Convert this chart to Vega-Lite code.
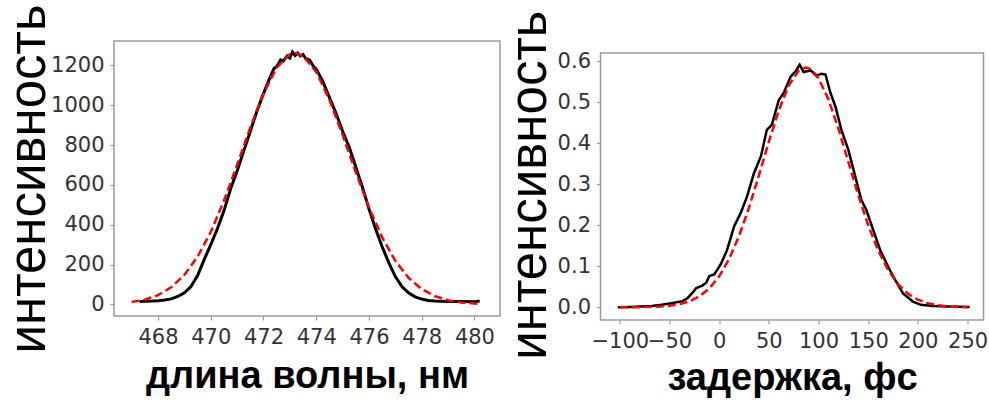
{
  "$schema": "https://vega.github.io/schema/vega-lite/v6.json",
  "padding": {"left": 2, "top": 3, "right": 0, "bottom": 0},
  "background": "white",
  "spacing": 2.5,
  "config": {
    "view": {"stroke": "#9a9a9a", "strokeWidth": 1.5},
    "axis": {
      "domain": false, "grid": false,
      "tickColor": "#9a9a9a", "tickSize": 4, "tickWidth": 1.2,
      "labelFont": "DejaVu Sans", "labelFontSize": 21, "labelColor": "#333333",
      "labelPadding": 6, "labelFlush": false, "labelOverlap": false, "labelBound": false
    }
  },
  "datasets": {
    "specBlack": [
      {"wl": 467.3, "v": 15}, {"wl": 467.5, "v": 16}, {"wl": 467.75, "v": 17}, {"wl": 468.0, "v": 19},
      {"wl": 468.25, "v": 22}, {"wl": 468.5, "v": 28}, {"wl": 468.75, "v": 40}, {"wl": 469.0, "v": 58},
      {"wl": 469.25, "v": 90}, {"wl": 469.5, "v": 145}, {"wl": 469.75, "v": 225}, {"wl": 470.0, "v": 300},
      {"wl": 470.25, "v": 380}, {"wl": 470.5, "v": 470}, {"wl": 470.75, "v": 580}, {"wl": 471.0, "v": 670},
      {"wl": 471.25, "v": 770}, {"wl": 471.5, "v": 870}, {"wl": 471.75, "v": 970}, {"wl": 472.0, "v": 1060},
      {"wl": 472.25, "v": 1140}, {"wl": 472.4, "v": 1185}, {"wl": 472.5, "v": 1195}, {"wl": 472.65, "v": 1228},
      {"wl": 472.75, "v": 1222}, {"wl": 472.9, "v": 1248}, {"wl": 473.0, "v": 1238}, {"wl": 473.1, "v": 1268},
      {"wl": 473.2, "v": 1250}, {"wl": 473.3, "v": 1262}, {"wl": 473.4, "v": 1248}, {"wl": 473.5, "v": 1255},
      {"wl": 473.6, "v": 1235}, {"wl": 473.75, "v": 1228}, {"wl": 473.9, "v": 1195}, {"wl": 474.0, "v": 1182},
      {"wl": 474.25, "v": 1120}, {"wl": 474.5, "v": 1040}, {"wl": 474.75, "v": 960}, {"wl": 475.0, "v": 870},
      {"wl": 475.25, "v": 790}, {"wl": 475.5, "v": 690}, {"wl": 475.75, "v": 590}, {"wl": 476.0, "v": 480},
      {"wl": 476.25, "v": 380}, {"wl": 476.5, "v": 290}, {"wl": 476.75, "v": 210}, {"wl": 477.0, "v": 140},
      {"wl": 477.25, "v": 90}, {"wl": 477.5, "v": 58}, {"wl": 477.75, "v": 38}, {"wl": 478.0, "v": 27},
      {"wl": 478.25, "v": 20}, {"wl": 478.5, "v": 17}, {"wl": 478.75, "v": 16}, {"wl": 479.0, "v": 15},
      {"wl": 479.5, "v": 15}, {"wl": 480.0, "v": 14}, {"wl": 480.2, "v": 17}
    ],
    "specRed": [
      {"wl": 467.0, "v": 12}, {"wl": 467.5, "v": 24}, {"wl": 468.0, "v": 47}, {"wl": 468.5, "v": 86},
      {"wl": 469.0, "v": 148}, {"wl": 469.5, "v": 240}, {"wl": 470.0, "v": 364}, {"wl": 470.5, "v": 521},
      {"wl": 471.0, "v": 701}, {"wl": 471.5, "v": 889}, {"wl": 472.0, "v": 1060}, {"wl": 472.5, "v": 1189},
      {"wl": 473.0, "v": 1256}, {"wl": 473.2, "v": 1262}, {"wl": 473.5, "v": 1248}, {"wl": 474.0, "v": 1168},
      {"wl": 474.5, "v": 1028}, {"wl": 475.0, "v": 852}, {"wl": 475.5, "v": 664}, {"wl": 476.0, "v": 487},
      {"wl": 476.5, "v": 337}, {"wl": 477.0, "v": 219}, {"wl": 477.5, "v": 134}, {"wl": 478.0, "v": 77},
      {"wl": 478.5, "v": 42}, {"wl": 479.0, "v": 21}, {"wl": 479.5, "v": 10}, {"wl": 480.0, "v": 5},
      {"wl": 480.2, "v": 3}
    ],
    "delayBlack": [
      {"t": -102, "v": 0.0}, {"t": -90, "v": 0.001}, {"t": -80, "v": 0.002}, {"t": -68, "v": 0.003},
      {"t": -58, "v": 0.006}, {"t": -48, "v": 0.010}, {"t": -37, "v": 0.015}, {"t": -32, "v": 0.022},
      {"t": -27, "v": 0.035}, {"t": -23, "v": 0.047}, {"t": -17, "v": 0.053}, {"t": -13, "v": 0.06},
      {"t": -10, "v": 0.076}, {"t": -5, "v": 0.08}, {"t": -1, "v": 0.095}, {"t": 2, "v": 0.107},
      {"t": 8, "v": 0.14}, {"t": 15, "v": 0.197}, {"t": 22, "v": 0.232}, {"t": 28, "v": 0.27},
      {"t": 35, "v": 0.327}, {"t": 42, "v": 0.368}, {"t": 48, "v": 0.433}, {"t": 53, "v": 0.445},
      {"t": 60, "v": 0.506}, {"t": 65, "v": 0.523}, {"t": 72, "v": 0.563}, {"t": 77, "v": 0.576},
      {"t": 81, "v": 0.592}, {"t": 85, "v": 0.574}, {"t": 92, "v": 0.578}, {"t": 98, "v": 0.566},
      {"t": 103, "v": 0.57}, {"t": 107, "v": 0.568}, {"t": 112, "v": 0.523}, {"t": 117, "v": 0.49},
      {"t": 123, "v": 0.433}, {"t": 130, "v": 0.384}, {"t": 137, "v": 0.319}, {"t": 143, "v": 0.262},
      {"t": 148, "v": 0.238}, {"t": 155, "v": 0.189}, {"t": 162, "v": 0.14}, {"t": 170, "v": 0.099},
      {"t": 178, "v": 0.063}, {"t": 185, "v": 0.034}, {"t": 195, "v": 0.014}, {"t": 203, "v": 0.006},
      {"t": 215, "v": 0.003}, {"t": 230, "v": 0.002}, {"t": 252, "v": 0.001}
    ],
    "delayRed": [
      {"t": -100, "v": 0.0001}, {"t": -80, "v": 0.0003}, {"t": -60, "v": 0.0017}, {"t": -50, "v": 0.0037},
      {"t": -40, "v": 0.0075}, {"t": -30, "v": 0.0144}, {"t": -20, "v": 0.0265}, {"t": -10, "v": 0.0459},
      {"t": 0, "v": 0.0755}, {"t": 10, "v": 0.1178}, {"t": 20, "v": 0.1738}, {"t": 30, "v": 0.243},
      {"t": 40, "v": 0.3219}, {"t": 50, "v": 0.404}, {"t": 60, "v": 0.4803}, {"t": 70, "v": 0.541},
      {"t": 80, "v": 0.5773}, {"t": 87, "v": 0.585}, {"t": 90, "v": 0.5836}, {"t": 100, "v": 0.5589},
      {"t": 110, "v": 0.507}, {"t": 120, "v": 0.4358}, {"t": 130, "v": 0.3548}, {"t": 140, "v": 0.2737},
      {"t": 150, "v": 0.2}, {"t": 160, "v": 0.1385}, {"t": 170, "v": 0.0908}, {"t": 180, "v": 0.0564},
      {"t": 190, "v": 0.0332}, {"t": 200, "v": 0.0185}, {"t": 210, "v": 0.0098}, {"t": 220, "v": 0.0049},
      {"t": 230, "v": 0.0023}, {"t": 240, "v": 0.001}, {"t": 250, "v": 0.0004}
    ],
    "empty": []
  },
  "hconcat": [
    {
      "vconcat": [
        {
          "width": 386,
          "height": 275,
          "encoding": {
            "x": {
              "field": "wl", "type": "quantitative",
              "scale": {"domain": [466.33, 480.97], "nice": false, "zero": false},
              "axis": {
                "values": [468, 470, 472, 474, 476, 478, 480],
                "title": "длина волны, нм",
                "titleFont": "Liberation Sans", "titleFontSize": 38, "titleFontWeight": "bold",
                "titleColor": "#000000", "titleY": 41
              }
            },
            "y": {
              "field": "v", "type": "quantitative",
              "scale": {"domain": [-58, 1323], "nice": false, "zero": false},
              "axis": {
                "values": [0, 200, 400, 600, 800, 1000, 1200],
                "format": "d",
                "title": "интенсивность",
                "titleFont": "Liberation Sans", "titleFontSize": 51, "titleFontWeight": "normal",
                "titleColor": "#000000", "titleX": -58.6, "titleY": 137.5
              }
            }
          },
          "layer": [
            {
              "data": {"name": "specBlack"},
              "mark": {"type": "line", "color": "#000000", "strokeWidth": 3}
            },
            {
              "data": {"name": "specRed"},
              "mark": {"type": "line", "color": "#ff0000", "strokeWidth": 2.5, "strokeDash": [8, 4]}
            }
          ]
        }
      ]
    },
    {
      "spacing": -34,
      "vconcat": [
        {
          "width": 383,
          "height": 1,
          "data": {"name": "empty"},
          "view": {"stroke": "transparent"},
          "mark": "point"
        },
        {
          "width": 383,
          "height": 267,
          "encoding": {
            "x": {
              "field": "t", "type": "quantitative",
              "scale": {"domain": [-119.4, 266], "nice": false, "zero": false},
              "axis": {
                "values": [-100, -50, 0, 50, 100, 150, 200, 250],
                "title": "задержка, фс",
                "titleFont": "Liberation Sans", "titleFontSize": 38, "titleFontWeight": "bold",
                "titleColor": "#000000", "titleY": 39
              }
            },
            "y": {
              "field": "v", "type": "quantitative",
              "scale": {"domain": [-0.031, 0.6205], "nice": false, "zero": false},
              "axis": {
                "values": [0, 0.1, 0.2, 0.3, 0.4, 0.5, 0.6],
                "format": ".1f",
                "title": "интенсивность",
                "titleFont": "Liberation Sans", "titleFontSize": 51, "titleFontWeight": "normal",
                "titleColor": "#000000", "titleX": -44, "titleY": 131.7
              }
            }
          },
          "layer": [
            {
              "data": {"name": "delayBlack"},
              "mark": {"type": "line", "color": "#000000", "strokeWidth": 2.5}
            },
            {
              "data": {"name": "delayRed"},
              "mark": {"type": "line", "color": "#ff0000", "strokeWidth": 2.5, "strokeDash": [8, 4]}
            }
          ]
        }
      ]
    }
  ]
}
